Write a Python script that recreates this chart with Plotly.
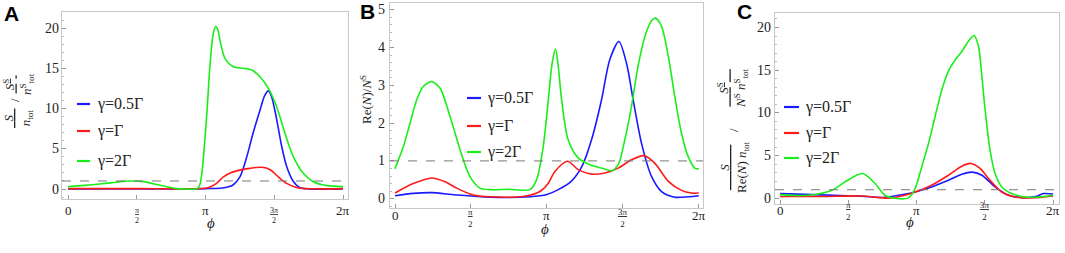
import plotly.graph_objects as go

W, H = 1065, 253

# ---------------- data (x in units of pi) ----------------
a_green_x = [0, 0.12, 0.23, 0.35, 0.45, 0.55, 0.67, 0.79, 0.86, 0.94, 0.96, 0.975, 0.99, 1.01, 1.033, 1.055, 1.074, 1.09, 1.105, 1.142, 1.202, 1.275, 1.336, 1.396, 1.457, 1.518, 1.578, 1.639, 1.711, 1.784, 1.882, 2.0]
a_green_y = [0.3, 0.45, 0.62, 0.85, 1.0, 0.92, 0.46, 0.05, 0.0, 0.05, 0.6, 2.2, 5.0, 9.5, 15.5, 19.2, 20.2, 19.8, 18.5, 16.2, 15.2, 15.0, 14.8, 13.95, 12.5, 10.2, 6.9, 4.0, 1.95, 0.9, 0.42, 0.3]
a_blue_x = [0, 0.5, 0.9, 1.0, 1.105, 1.16, 1.2, 1.25, 1.30, 1.345, 1.396, 1.43, 1.457, 1.48, 1.518, 1.554, 1.59, 1.64, 1.687, 1.75, 2.0]
a_blue_y = [0.02, 0.02, 0.02, 0.05, 0.1, 0.25, 0.5, 1.5, 4.0, 6.9, 9.8, 11.6, 12.2, 11.5, 8.6, 5.3, 2.8, 0.9, 0.15, 0.02, 0.0]
a_red_x = [0, 0.5, 0.9, 1.0, 1.033, 1.08, 1.13, 1.18, 1.25, 1.32, 1.41, 1.47, 1.53, 1.59, 1.66, 1.76, 2.0]
a_red_y = [0.05, 0.05, 0.03, 0.1, 0.25, 0.7, 1.5, 2.0, 2.35, 2.57, 2.7, 2.4, 1.5, 0.7, 0.2, 0.03, 0.05]

b_green_x = [0, 0.055, 0.099, 0.143, 0.186, 0.241, 0.296, 0.362, 0.428, 0.493, 0.559, 0.625, 0.75, 0.888, 0.932, 0.976, 1.009, 1.035, 1.057, 1.075, 1.097, 1.14, 1.206, 1.272, 1.36, 1.426, 1.47, 1.513, 1.557, 1.6, 1.645, 1.689, 1.715, 1.755, 1.8, 1.842, 1.886, 1.93, 1.974, 2.0]
b_green_y = [0.79, 1.38, 2.0, 2.62, 2.97, 3.1, 2.93, 2.18, 1.3, 0.59, 0.28, 0.24, 0.25, 0.24, 0.5, 1.38, 2.6, 3.6, 3.96, 3.5, 2.62, 1.56, 1.08, 0.92, 0.81, 0.74, 0.9, 1.56, 2.44, 3.5, 4.29, 4.71, 4.78, 4.56, 3.76, 2.71, 1.74, 1.12, 0.81, 0.79]
b_blue_x = [0, 0.12, 0.24, 0.4, 0.625, 0.888, 1.0, 1.075, 1.16, 1.23, 1.294, 1.36, 1.414, 1.474, 1.524, 1.568, 1.623, 1.689, 1.755, 1.842, 1.93, 2.0]
b_blue_y = [0.08, 0.14, 0.16, 0.1, 0.04, 0.05, 0.11, 0.24, 0.46, 0.85, 1.56, 2.62, 3.68, 4.16, 3.59, 2.62, 1.47, 0.59, 0.19, 0.04, 0.05, 0.08]
b_red_x = [0, 0.12, 0.24, 0.33, 0.406, 0.515, 0.625, 0.844, 0.954, 1.009, 1.053, 1.136, 1.206, 1.294, 1.382, 1.47, 1.557, 1.64, 1.71, 1.8, 1.886, 1.952, 2.0]
b_red_y = [0.15, 0.4, 0.55, 0.45, 0.28, 0.1, 0.05, 0.06, 0.19, 0.41, 0.72, 0.99, 0.77, 0.65, 0.68, 0.81, 1.03, 1.14, 0.94, 0.46, 0.22, 0.15, 0.15]

c_green_x = [0, 0.208, 0.379, 0.476, 0.603, 0.696, 0.769, 0.842, 0.94, 0.989, 1.038, 1.087, 1.136, 1.185, 1.233, 1.282, 1.331, 1.38, 1.421, 1.453, 1.478, 1.502, 1.538, 1.575, 1.624, 1.697, 1.795, 1.892, 2.0]
c_green_y = [0.43, 0.35, 0.94, 1.92, 2.9, 1.73, 0.35, 0.0, 0.05, 1.14, 3.7, 6.4, 9.6, 12.7, 14.9, 16.2, 17.2, 18.4, 19.06, 17.8, 14.3, 10.35, 5.65, 2.9, 1.33, 0.55, 0.15, 0.15, 0.35]
c_red_x = [0, 0.3, 0.6, 0.8, 0.9, 0.989, 1.11, 1.233, 1.331, 1.399, 1.465, 1.538, 1.624, 1.722, 1.844, 2.0]
c_red_y = [0.2, 0.2, 0.27, 0.0, 0.3, 0.74, 1.53, 2.7, 3.76, 4.08, 3.49, 2.1, 0.74, 0.15, 0.04, 0.27]
c_blue_x = [0, 0.3, 0.6, 0.75, 0.94, 0.989, 1.11, 1.233, 1.331, 1.41, 1.478, 1.575, 1.673, 1.795, 1.87, 1.93, 2.0]
c_blue_y = [0.55, 0.4, 0.24, 0.1, 0.55, 0.74, 1.33, 2.1, 2.82, 3.06, 2.7, 1.33, 0.35, 0.08, 0.2, 0.55, 0.5]

series_names = ["γ=0.5Γ", "γ=Γ", "γ=2Γ"]
x_tickvals = [0, 0.5, 1, 1.5, 2]
x_ticktext = ["0", "<u>π</u><br>2", "π", "<u>3π</u><br>2", "2π"]
x_tick_is_frac = [False, True, False, True, False]
a_yticks = [0, 5, 10, 15, 20]
b_yticks = [0, 1, 2, 3, 4, 5]
c_yticks = [0, 5, 10, 15, 20]
ref_level = 1

BLUE, RED, GREEN = "#1a1aff", "#ff1a1a", "#1aee1a"
SERIF = "Liberation Serif, Times New Roman, serif"
TXT = "#222"

def px(x):
    return x / W

def py(y):
    return 1 - y / H

# frame (left, right, top, bottom) in pixels; label offsets in pixels
panels = [
    dict(frame=(62, 348, 12, 199), xr=[-0.0436, 2.036], yr=[-1.24, 22.0], yt=a_yticks, minor=1,
         lab=-11, frac=-16, fs=8, ylab=-1,
         data=[(a_blue_x, a_blue_y, BLUE), (a_red_x, a_red_y, RED), (a_green_x, a_green_y, GREEN)]),
    dict(frame=(390, 703, 3, 208), xr=[-0.033, 2.028], yr=[-0.246, 5.18], yt=b_yticks, minor=0.2,
         lab=-7, frac=-10, fs=9, ylab=-3,
         data=[(b_blue_x, b_blue_y, BLUE), (b_red_x, b_red_y, RED), (b_green_x, b_green_y, GREEN)]),
    dict(frame=(775, 1059, 13, 204), xr=[-0.037, 2.043], yr=[-0.67, 21.7], yt=c_yticks, minor=1,
         lab=-6, frac=-7, fs=9, ylab=-2,
         data=[(c_blue_x, c_blue_y, BLUE), (c_red_x, c_red_y, RED), (c_green_x, c_green_y, GREEN)]),
]

fig = go.Figure()
layout = dict(template="none", width=W, height=H, margin=dict(l=0, r=0, t=0, b=0, pad=0),
              paper_bgcolor="white", plot_bgcolor="white", showlegend=False,
              font=dict(family=SERIF, color=TXT, size=13))
shapes = []
annotations = []

for i, p in enumerate(panels):
    n = "" if i == 0 else str(i + 1)
    x0, x1, y0, y1 = p["frame"]
    for xs, ys, col in p["data"]:
        fig.add_trace(go.Scatter(x=xs, y=ys, mode="lines", xaxis="x" + n, yaxis="y" + n,
                                 line=dict(color=col, width=1.6, shape="spline", smoothing=0.8),
                                 hoverinfo="skip"))
    layout["xaxis" + n] = dict(domain=[px(x0), px(x1)], range=p["xr"], anchor="y" + n,
                               automargin=False, tickvals=x_tickvals, showticklabels=False,
                               ticks="inside", ticklen=4, tickcolor="#999", showline=True,
                               linecolor="#c8c8c8", linewidth=1, mirror=True, showgrid=False,
                               zeroline=False)
    layout["yaxis" + n] = dict(domain=[py(y1), py(y0)], range=p["yr"], anchor="x" + n,
                               automargin=False, tickvals=p["yt"], showticklabels=False,
                               ticks="inside", ticklen=4, tickcolor="#999", showline=True,
                               linecolor="#c8c8c8", linewidth=1, mirror=True, showgrid=False,
                               zeroline=False,
                               minor=dict(dtick=p["minor"], ticks="inside", ticklen=2, tickcolor="#bbb"))
    shapes.append(dict(type="line", xref="x" + n + " domain", yref="y" + n, x0=0, x1=1,
                       y0=ref_level, y1=ref_level, line=dict(color="#777", width=1, dash="dash")))
    # x tick labels at the axis values
    for tv, tt, frac in zip(x_tickvals, x_ticktext, x_tick_is_frac):
        annotations.append(dict(text=tt, x=tv, y=0, xref="x" + n, yref="y" + n + " domain",
                                xanchor="center", yanchor="middle", showarrow=False,
                                yshift=p["frac"] if frac else p["lab"],
                                font=dict(size=p["fs"] if frac else 13, family=SERIF, color=TXT)))
    # y tick labels at the axis values
    for tv in p["yt"]:
        annotations.append(dict(text=str(tv), x=0, y=tv, xref="x" + n + " domain", yref="y" + n,
                                xanchor="right", yanchor="middle", showarrow=False,
                                xshift=p["ylab"], font=dict(size=14, family=SERIF, color=TXT)))

# ---------------- legends ----------------
legend_pos = [(77, 90, 95, [104, 131, 161]), (467, 481, 485, [98, 126, 152]), (784, 799, 803, [107, 133, 158])]
for (lx0, lx1, tx, rows) in legend_pos:
    for name, col, ry in zip(series_names, [BLUE, RED, GREEN], rows):
        shapes.append(dict(type="line", xref="paper", yref="paper", x0=px(lx0), x1=px(lx1),
                           y0=py(ry), y1=py(ry), line=dict(color=col, width=2.2)))
        annotations.append(dict(text=name, x=px(tx), y=py(ry), xref="paper", yref="paper",
                                xanchor="left", yanchor="middle", showarrow=False,
                                font=dict(size=16, family=SERIF, color=TXT)))

# ---------------- panel letters ----------------
for letter, (lx, ly) in zip("ABC", [(11, 13), (367, 12), (744, 12)]):
    annotations.append(dict(text="<b>%s</b>" % letter, x=px(lx), y=py(ly), xref="paper", yref="paper",
                            showarrow=False, xanchor="center", yanchor="middle",
                            font=dict(size=21, family="Liberation Sans, Arial, sans-serif", color="black")))

# ---------------- axis titles ----------------
for cx, cy in [(205, 233), (545, 239), (916, 232)]:
    annotations.append(dict(text="<i>ϕ</i>", x=px(cx), y=py(cy), xref="paper", yref="paper",
                            showarrow=False, font=dict(size=15, family=SERIF, color=TXT)))

def rot(text, x, y, size=13):
    annotations.append(dict(text=text, x=px(x), y=py(y), xref="paper", yref="paper", textangle=-90,
                            showarrow=False, xanchor="center", yanchor="middle",
                            font=dict(size=size, family=SERIF, color=TXT)))

# A
rot("<u>&nbsp;&nbsp;<i>S</i>&nbsp;&nbsp;</u><br><i>n</i><sub>tot</sub>", 18, 118)
rot("/", 15, 100)
rot("<u>&nbsp;<i>S</i><sup>S</sup>&nbsp;</u><br><i>n</i><sup>S</sup><sub>tot</sub>", 18, 84)
# B
rot("Re(<i>N</i>)/<i>N</i><sup>S</sup>", 366, 100)
# C
rot("<u>&nbsp;&nbsp;&nbsp;&nbsp;&nbsp;&nbsp;<i>S</i>&nbsp;&nbsp;&nbsp;&nbsp;&nbsp;&nbsp;</u><br>Re(<i>N</i>) <i>n</i><sub>tot</sub>", 734, 167)
rot("/", 733, 130)
rot("<u>&nbsp;&nbsp;&nbsp;&nbsp;<i>S</i><sup>S</sup>&nbsp;&nbsp;&nbsp;&nbsp;</u><br><i>N</i><sup>S</sup> <i>n</i><sup>S</sup><sub>tot</sub>", 732, 88)

layout["shapes"] = shapes
layout["annotations"] = annotations
fig.update_layout(**layout)
fig.write_html("out.html", config={"displayModeBar": False},
               post_script="document.body.style.margin='0px';document.body.style.overflow='hidden';")
